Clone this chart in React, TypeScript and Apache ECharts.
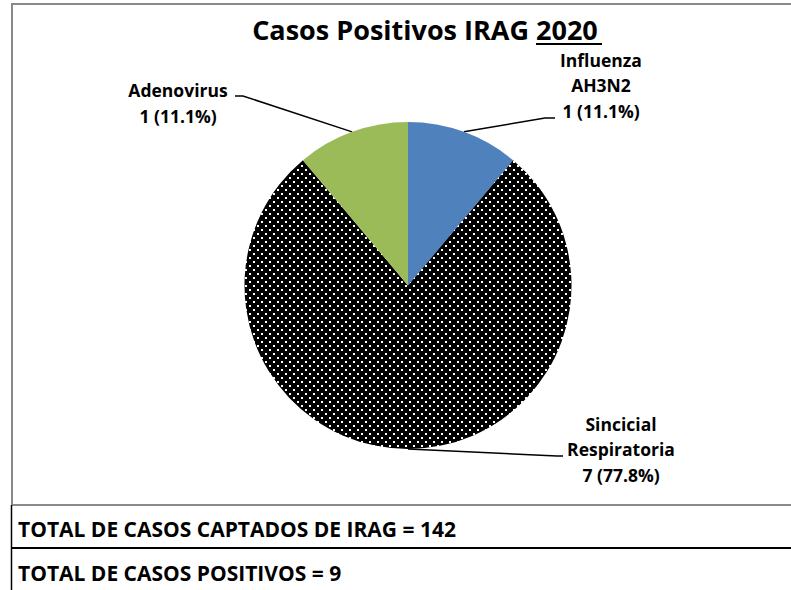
import React, { useEffect, useRef } from "react";
import * as echarts from "echarts";

const categories = ["Influenza AH3N2", "Sincicial Respiratoria", "Adenovirus"];
const values = [1, 7, 1];
const titleMain = "Casos Positivos IRAG";
const titleYear = "2020";
const totalCaptados = 142;
const totalPositivos = 9;

const FONT = "'Open Sans', Lato, sans-serif";
const CX = 408;
const CY = 285.5;
const R = 163.5;

function makeDots(): string {
  const c = document.createElement("canvas");
  c.width = 8;
  c.height = 8;
  const ctx = c.getContext("2d")!;
  ctx.fillStyle = "#000";
  ctx.fillRect(0, 0, 8, 8);
  ctx.fillStyle = "#fff";
  ctx.fillRect(1, 1, 2, 2);
  ctx.fillRect(5, 5, 2, 2);
  return c.toDataURL();
}

export default function App() {
  const ref = useRef<HTMLDivElement>(null);
  useEffect(() => {
    if (!ref.current) return;
    const chart = echarts.init(ref.current, undefined, { renderer: "svg" });
    const dots = makeDots();
    const colors: any[] = [
      "#4F81BD",
      { image: dots, repeat: "repeat", imageWidth: 8, imageHeight: 8 },
      "#9BBB59",
    ];
    const labelPos = [
      { x: 601, y: 85 },
      { x: 621, y: 449 },
      { x: 178, y: 103 },
    ];
    const option: any = {
      animation: false,
      backgroundColor: "#fff",
      textStyle: { fontFamily: FONT },
      series: [
        {
          type: "pie",
          center: [CX, CY],
          radius: R,
          startAngle: 90,
          clockwise: true,
          percentPrecision: 1,
          data: categories.map((n, i) => ({
            name: n,
            value: values[i],
            itemStyle: { color: colors[i] },
          })),
          label: {
            show: true,
            position: "outer",
            color: "#000",
            fontFamily: FONT,
            fontWeight: "bold",
            fontSize: 17.5,
            lineHeight: 25.5,
            align: "center",
            formatter: (p: any) =>
              `${p.name.replace(" ", "\n")}\n${p.value} (${p.percent.toFixed(1)}%)`,
          },
          labelLine: {
            show: true,
            lineStyle: { color: "#000", width: 1.5 },
          },
          labelLayout: (p: any) => {
            const i = p.dataIndex;
            const start = p.labelLinePoints ? p.labelLinePoints[0] : [CX, CY];
            let pts: number[][];
            if (i === 0) pts = [start, [545, 118], [555, 118]];
            else if (i === 1) pts = [[CX, CY + R], [557, 456], [563, 456]];
            else pts = [start, [243, 96], [235, 96]];
            return {
              x: labelPos[i].x,
              y: labelPos[i].y,
              align: "center",
              verticalAlign: "middle",
              labelLinePoints: pts,
            };
          },
        },
      ],
      graphic: [
        {
          type: "rect",
          shape: { x: 12, y: 4, width: 790, height: 501 },
          style: { fill: "none", stroke: "#898989", lineWidth: 2 },
          silent: true,
        },
        {
          type: "text",
          x: 529,
          y: 29,
          style: {
            text: titleMain,
            fontFamily: FONT,
            fontWeight: "bold",
            fontSize: 27,
            fill: "#000",
            align: "right",
            verticalAlign: "middle",
          },
        },
        {
          type: "text",
          x: 536,
          y: 29,
          style: {
            text: titleYear,
            fontFamily: FONT,
            fontWeight: "bold",
            fontSize: 27,
            fill: "#000",
            align: "left",
            verticalAlign: "middle",
          },
        },
        {
          type: "line",
          shape: { x1: 536, y1: 44, x2: 602, y2: 44 },
          style: { stroke: "#000", lineWidth: 2 },
        },
        {
          type: "line",
          shape: { x1: 11.5, y1: 505, x2: 11.5, y2: 590 },
          style: { stroke: "#000", lineWidth: 1.5 },
        },
        {
          type: "line",
          shape: { x1: 11, y1: 548, x2: 791, y2: 548 },
          style: { stroke: "#000", lineWidth: 2 },
        },
        {
          type: "text",
          x: 18,
          y: 529,
          style: {
            text: `TOTAL DE CASOS CAPTADOS DE IRAG = ${totalCaptados}`,
            fontFamily: FONT,
            fontWeight: "bold",
            fontSize: 21,
            fill: "#000",
            align: "left",
            verticalAlign: "middle",
          },
        },
        {
          type: "text",
          x: 18,
          y: 573,
          style: {
            text: `TOTAL DE CASOS POSITIVOS = ${totalPositivos}`,
            fontFamily: FONT,
            fontWeight: "bold",
            fontSize: 21,
            fill: "#000",
            align: "left",
            verticalAlign: "middle",
          },
        },
      ],
    };
    chart.setOption(option);
    return () => chart.dispose();
  }, []);
  return (
    <div
      ref={ref}
      style={{ position: "absolute", left: 0, top: 0, width: 791, height: 590 }}
    />
  );
}
